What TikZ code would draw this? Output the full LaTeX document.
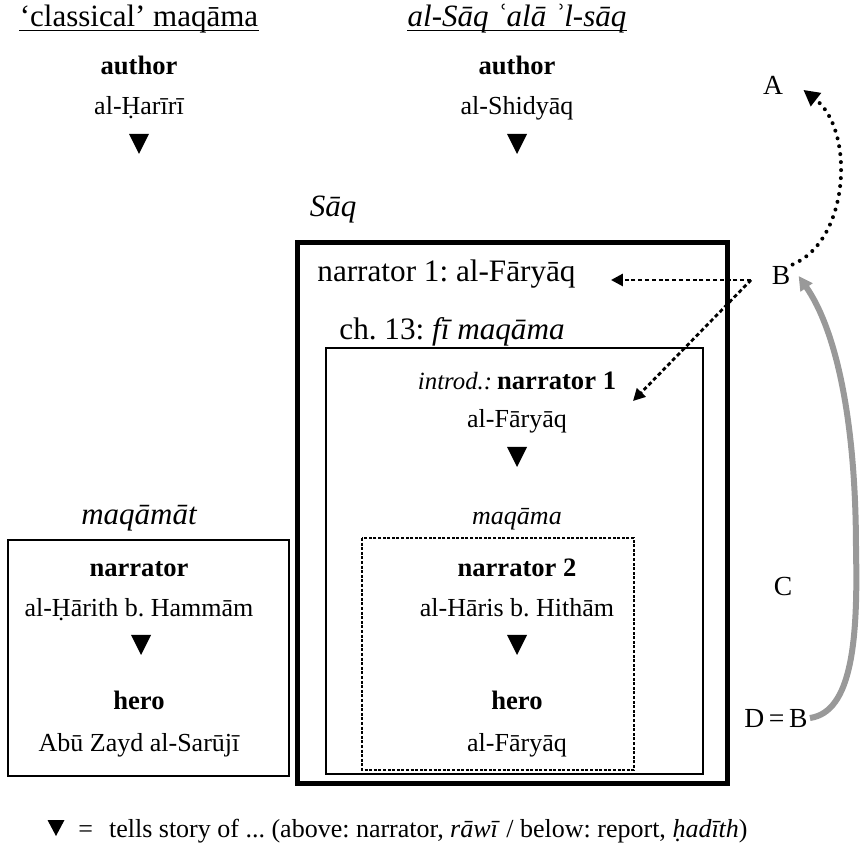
\documentclass[tikz,border=0pt]{standalone}
\usepackage{fontspec}
\setmainfont{Liberation Serif}
\usetikzlibrary{arrows.meta}
\frenchspacing

\tikzset{
  sect/.style={font=\fontsize{15.5}{18}\selectfont, inner sep=0pt, anchor=base},
  role/.style={font=\fontsize{13.3}{16}\selectfont\bfseries, inner sep=0pt, anchor=base},
  who/.style={font=\fontsize{13}{15}\selectfont, inner sep=0pt, anchor=base},
  lvl/.style={font=\fontsize{13.8}{16}\selectfont, inner sep=1pt, anchor=base},
  boxline/.style={line width=0.8pt},
  dotarrow/.style={line width=1.4pt, dash pattern=on 2pt off 1.4pt, -{Triangle[length=6pt,width=6pt]}},
}

\begin{document}
\begin{tikzpicture}[x=0.5pt,y=-0.5pt]
  \useasboundingbox (0,0) rectangle (863,844);

  % column heads
  \node [sect] (clas) at (139,27) {‘classical’ maqāma};
  \node [sect] (saqtitle) at (517,27) {\itshape al-Sāq ʿalā ʾl-sāq};
  \draw [line width=0.6pt] ([yshift=-1.8pt]clas.base west) -- ([yshift=-1.8pt]clas.base east);
  \draw [line width=0.6pt] ([yshift=-1.8pt]saqtitle.base west) -- ([yshift=-1.8pt]saqtitle.base east);

  \node [role] (auth1) at (139,75) {author};
  \node [who] (harir) at (139,115) {al-Ḥarīrī};
  \node [role] (auth2) at (517,75) {author};
  \node [who] (shid) at (517,115) {al-Shidyāq};

  % the frames
  \node [sect] (saq) at (333,217) {\itshape Sāq};
  \draw [line width=2.5pt] (297,243) rectangle (727,783);
  \node [sect, font=\fontsize{15.6}{18}\selectfont, anchor=base west] (fram) at (317,282) {narrator 1: al-Fāryāq};
  \node [sect, font=\fontsize{15.6}{18}\selectfont, anchor=base west] (ch) at (339,340) {ch. 13: \itshape fī maqāma};
  \draw [boxline] (326,348) rectangle (703,774);
  \node [inner sep=0pt, anchor=base] (intro) at (517,390)
    {{\fontsize{12.4}{15}\selectfont\itshape introd.:} {\fontsize{13.3}{16}\selectfont\bfseries narrator 1}};
  \node [who] (far1) at (517,428) {al-Fāryāq};
  \node [who, font=\fontsize{13}{15}\selectfont\itshape] (maq) at (517,525) {maqāma};
  \draw [line width=1.2pt, dash pattern=on 1.5pt off 0.8pt] (362,538) rectangle (634,770);
  \node [role] (nar2) at (517,577) {narrator 2};
  \node [who] (haris) at (517,617) {al-Hāris b. Hithām};
  \node [role] (hero2) at (517,710) {hero};
  \node [who] (far2) at (517,752) {al-Fāryāq};

  % maqamat
  \node [sect] (maqt) at (139,525) {\itshape maqāmāt};
  \draw [boxline] (8,540) rectangle (289,776);
  \node [role] (nar) at (139,577) {narrator};
  \node [who] (harith) at (139,617) {al-Ḥārith b. Hammām};
  \node [role] (hero1) at (139,710) {hero};
  \node [who] (abu) at (139,752) {Abū Zayd al-Sarūjī};

  % tells story of
  \foreach \p in {(139,144),(517,144),(517,457),(517,645),(141,645)}
    \fill \p ++(-10,-10) -- ++(20,0) -- ++(-10,20) -- cycle;
  \fill (56,828) ++(-8.5,-8) -- ++(17,0) -- ++(-8.5,16) -- cycle;
  \node [who, anchor=base west] (legend) at (78,837)
    {=\hspace{8pt}tells story of ... (above: narrator, \textit{rāwī} / below: report, \textit{ḥadīth})};

  % levels
  \node [lvl] (A) at (773,95) {A};
  \node [lvl] (B) at (781,285) {B};
  \node [lvl] (C) at (783,596) {C};
  \node [lvl] (D) at (776,727) {D\,=\,B};
  \coordinate (src) at (751,280);
  \coordinate (tip) at (633,401);

  \draw [dotarrow] (src) -- ([xshift=17.5pt]fram.east |- src);
  \draw [dotarrow] (src) -- (tip);
  \draw [line width=2pt, line cap=round, dash pattern=on 0pt off 4pt, -{Triangle[length=8pt,width=8pt]}]
    (B.north east) .. controls (850,240) and (855,130) .. ([xshift=9pt,yshift=-2pt]A.east);
  \draw [gray!80, line width=3pt, -{Triangle[length=7pt,width=7pt]}]
    (D.east) .. controls (852,712) and (858,640) .. (856,550)
    .. controls (856,420) and (836,330) .. ([xshift=3pt]B.east);
\end{tikzpicture}
\end{document}
